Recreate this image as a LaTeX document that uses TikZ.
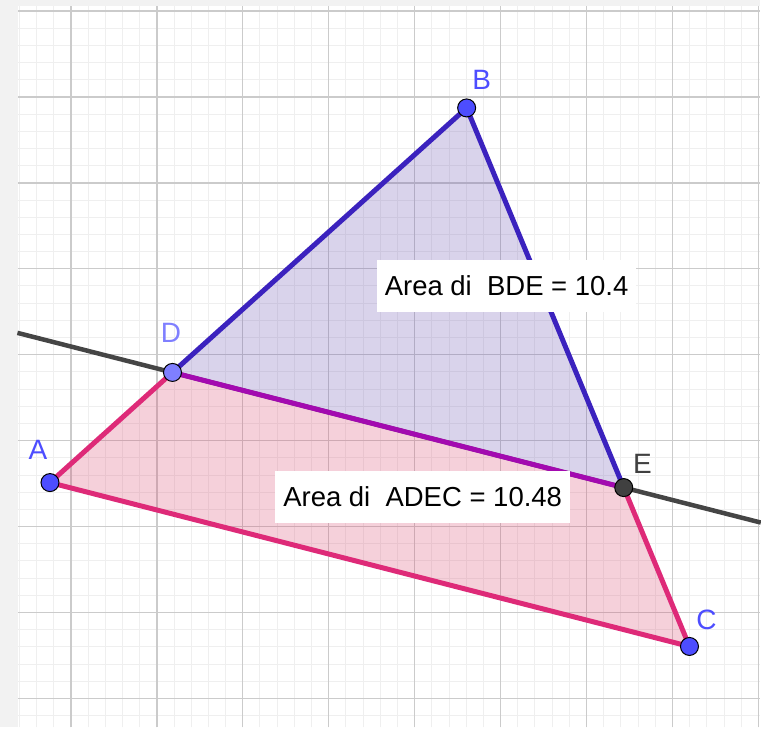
\documentclass[tikz,border=0pt]{standalone}
\usepackage{fontspec}
\setmainfont{Liberation Sans}
\usetikzlibrary{calc}
\definecolor{cbg}{HTML}{F2F2F2}
\definecolor{cminor}{HTML}{EFEFEF}
\definecolor{cmajor}{HTML}{CBCBCB}
\definecolor{ctri}{HTML}{3B22BE}
\definecolor{ctriF}{HTML}{6A50B0}
\definecolor{cquad}{HTML}{DE2A78}
\definecolor{cquadF}{HTML}{D8466E}
\definecolor{ccut}{HTML}{A30AB0}
\definecolor{cline}{HTML}{454545}
\definecolor{cptA}{HTML}{4D4DFF}
\definecolor{cptD}{HTML}{7F7FFF}
\definecolor{cptE}{HTML}{404040}
\tikzset{
  pt/.style={circle, draw=black, line width=1pt, fill=cptA, inner sep=0pt, minimum size=18pt},
  ptfree/.style={pt, fill=cptD},
  ptdark/.style={pt, fill=cptE},
  lbl/.style={font=\fontsize{28}{32}\selectfont, text=cptA},
  areabox/.style={fill=white, font=\fontsize{27.5}{32}\selectfont, minimum height=52pt, inner xsep=8pt},
  edge/.style={line width=5pt, line cap=round},
}

\begin{document}
\begin{tikzpicture}[x=86pt, y=86pt]
  % sheet and grid
  \fill[cbg] (-0.8256,-8.337) rectangle (8.023,0.128);
  \fill[white] (-0.616,-8.337) rectangle (8.023,0.058);
  \draw[cminor, line width=1pt] (-0.616,-8.337) grid[step=0.2] (8.023,0.058);
  \draw[cmajor, line width=1.3pt] (-0.616,-8.337) grid[step=1] (8.023,0.058);
  \useasboundingbox (-0.8256,-8.337) rectangle (8.023,0.128);
  % vertices
  \coordinate (a) at (-0.244,-5.488);
  \coordinate (b) at (4.605,-1.128);
  \coordinate (c) at (7.198,-7.395);
  \coordinate (d) at ($(a)!0.294!(b)$);
  \coordinate (e) at ($(b)!0.705!(c)$);
  \coordinate (l1) at ($(d)!-0.3436!(e)$);
  \coordinate (l2) at ($(d)!1.3038!(e)$);
  % faces
  \fill[ctriF, fill opacity=0.25] (b) -- (d) -- (e) -- cycle;
  \fill[cquadF, fill opacity=0.25] (a) -- (d) -- (e) -- (c) -- cycle;
  % cutting line
  \draw[cline, line width=4.5pt] (l1) -- (l2);
  % sides
  \draw[edge, ctri] (d) -- (b) -- (e);
  \draw[edge, cquad] (d) -- (a) -- (c) -- (e);
  \draw[edge, ccut] (d) -- (e);
  % points
  \node[pt] (A) at (a) {};
  \node[pt] (B) at (b) {};
  \node[pt] (C) at (c) {};
  \node[ptfree] (D) at (d) {};
  \node[ptdark] (E) at (e) {};
  \node[lbl] (lA) at (-0.384,-5.105) {A};
  \node[lbl] (lB) at (4.779,-0.802) {B};
  \node[lbl] (lC) at (7.395,-7.081) {C};
  \node[lbl, text=cptD] (lD) at (1.163,-3.744) {D};
  \node[lbl, text=cptE] (lE) at (6.651,-5.267) {E};
  % areas
  \node[areabox] (sBDE) at (5.070,-3.198) {Area di~ BDE = 10.4};
  \node[areabox] (sADEC) at (4.093,-5.657) {Area di~ ADEC = 10.48};
\end{tikzpicture}
\end{document}
